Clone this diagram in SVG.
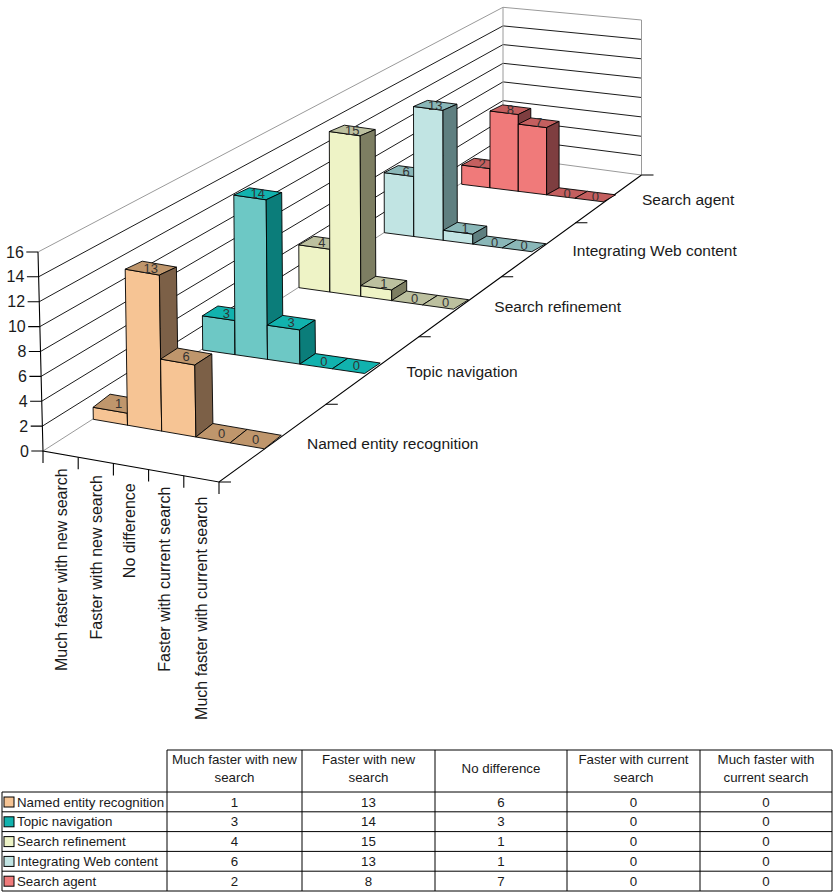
<svg xmlns="http://www.w3.org/2000/svg" width="834" height="893" viewBox="0 0 834 893">
<style>
text{font-family:"Liberation Sans",Arial,sans-serif;fill:#1a1a1a}
.grid{stroke:#000;stroke-width:0.9;fill:none}
.edge{stroke:#9a9a9a;stroke-width:1;fill:none}
.ax{stroke:#000;stroke-width:1.1;fill:none}
.bar polygon{stroke:#000;stroke-width:0.9;stroke-linejoin:round}
.v{font-size:13px;text-anchor:middle;fill:#333}
.yl{font-size:16px;text-anchor:end}
.cl{font-size:16px;text-anchor:end}
.sl{font-size:15.5px}
.tb{font-size:13.3px}
.tc{font-size:13.3px;text-anchor:middle}
.cell{stroke:#000;stroke-width:1;fill:none}
.a0{fill:#F6C494}.b0{fill:#BF966C}.c0{fill:#7C6047}
.a1{fill:#6DC8C5}.b1{fill:#11B2AE}.c1{fill:#0B7D7A}
.a2{fill:#EEF3C6}.b2{fill:#BCC09F}.c2{fill:#7D7E62}
.a3{fill:#C1E4E3}.b3{fill:#8AB7B8}.c3{fill:#5F7F80}
.a4{fill:#F07A7A}.b4{fill:#C45F5F}.c4{fill:#7E3E40}
</style>
<g id="walls">
<line class="edge" x1="43" y1="451" x2="503" y2="156.5"/>
<line class="grid" x1="42.4" y1="426.1" x2="503" y2="137.9"/>
<line class="grid" x1="41.8" y1="401.2" x2="503" y2="119.2"/>
<line class="grid" x1="41.1" y1="376.4" x2="503" y2="100.6"/>
<line class="grid" x1="40.5" y1="351.5" x2="503" y2="81.9"/>
<line class="grid" x1="39.9" y1="326.6" x2="503" y2="63.3"/>
<line class="grid" x1="39.3" y1="301.7" x2="503" y2="44.6"/>
<line class="grid" x1="38.6" y1="276.8" x2="503" y2="25.9"/>
<line class="edge" x1="38" y1="252" x2="503" y2="7.3"/>
<line class="edge" x1="503" y1="156.5" x2="641.5" y2="175"/>
<line class="grid" x1="503" y1="137.9" x2="641.5" y2="155.6"/>
<line class="grid" x1="503" y1="119.2" x2="641.5" y2="136.3"/>
<line class="grid" x1="503" y1="100.6" x2="641.5" y2="116.9"/>
<line class="grid" x1="503" y1="81.9" x2="641.5" y2="97.5"/>
<line class="grid" x1="503" y1="63.3" x2="641.5" y2="78.1"/>
<line class="grid" x1="503" y1="44.6" x2="641.5" y2="58.8"/>
<line class="grid" x1="503" y1="25.9" x2="641.5" y2="39.4"/>
<line class="edge" x1="503" y1="7.3" x2="641.5" y2="20"/>
<line class="edge" x1="503" y1="7.3" x2="503" y2="156.5"/>
<line class="edge" x1="641.5" y1="20" x2="641.5" y2="175"/>
</g>
<g id="axes">
<path class="ax" d="M38,252 L43,451 L219,482 L641.5,175"/>
<path class="ax" d="M31.3,451H43M30.7,426.1H42.4M30.1,401.2H41.8M29.4,376.4H41.1M28.8,351.5H40.5M28.2,326.6H39.9M27.6,301.7H39.3M26.9,276.8H38.6M26.3,252H38"/>
<path class="ax" d="M43,451V463M78.2,457.2V469.2M113.4,463.4V475.4M148.6,469.6V481.6M183.8,475.8V487.8M219,482V494"/>
<path class="ax" d="M219,482H231M325.8,404.3H337.8M418.7,336.7H430.7M501.2,276.7H513.2M575.4,222.7H587.4M641.5,175H653.5"/>
<text class="yl" x="28.8" y="456.5">0</text>
<text class="yl" x="28.2" y="431.6">2</text>
<text class="yl" x="27.6" y="406.7">4</text>
<text class="yl" x="26.9" y="381.9">6</text>
<text class="yl" x="26.3" y="357">8</text>
<text class="yl" x="25.7" y="332.1">10</text>
<text class="yl" x="25.1" y="307.2">12</text>
<text class="yl" x="24.4" y="282.3">14</text>
<text class="yl" x="23.8" y="257.5">16</text>
<text class="cl" transform="translate(66.7,468.3) rotate(-90)">Much faster with new search</text>
<text class="cl" transform="translate(101.7,475) rotate(-90)">Faster with new search</text>
<text class="cl" transform="translate(135,483.3) rotate(-90)">No difference</text>
<text class="cl" transform="translate(170,486.7) rotate(-90)">Faster with current search</text>
<text class="cl" transform="translate(206.7,496.7) rotate(-90)">Much faster with current search</text>
<text class="sl" x="307" y="449">Named entity recognition</text>
<text class="sl" x="406.5" y="377">Topic navigation</text>
<text class="sl" x="494.3" y="311.7">Search refinement</text>
<text class="sl" x="572.5" y="255.7">Integrating Web content</text>
<text class="sl" x="642" y="205">Search agent</text>
</g>
<g id="series-search-agent">
<g id="sa-1" class="bar"><polygon class="a4" points="461.7,184.3 490.0,187.8 490.0,168.6 461.7,165.1"/><polygon class="b4" points="461.7,165.1 490.0,168.6 502.5,161.8 474.2,158.3"/><polygon class="c4" points="490.0,187.8 490.0,168.6 502.5,161.8 502.5,180.8"/><text class="v" x="482.1" y="168">2</text></g>
<g id="sa-2" class="bar"><polygon class="a4" points="490.0,187.8 518.3,191.3 518.3,114.5 490.0,111.0"/><polygon class="b4" points="490.0,111.0 518.3,114.5 530.8,108.4 502.5,104.9"/><polygon class="c4" points="518.3,191.3 518.3,114.5 530.8,108.4 530.8,184.3"/><text class="v" x="510.4" y="114.2">8</text></g>
<g id="sa-3" class="bar"><polygon class="a4" points="518.3,191.3 546.6,194.8 546.6,127.6 518.3,124.1"/><polygon class="b4" points="518.3,124.1 546.6,127.6 559.1,121.4 530.8,117.9"/><polygon class="c4" points="546.6,194.8 546.6,127.6 559.1,121.4 559.1,188.3"/><text class="v" x="538.7" y="127.3">7</text></g>
<g id="sa-4" class="bar"><polygon class="b4" points="546.6,194.8 574.9,198.3 587.4,191.3 559.1,187.8"/><text class="v" x="567" y="197.5">0</text></g>
<g id="sa-5" class="bar"><polygon class="b4" points="574.9,198.3 603.2,201.8 615.7,194.8 587.4,191.3"/><text class="v" x="595.3" y="201.1">0</text></g>
</g>
<g id="series-integrating-web-content">
<g id="iw-1" class="bar"><polygon class="a3" points="384.3,232.7 413.8,236.5 413.7,176.5 384.2,172.7"/><polygon class="b3" points="384.2,172.7 413.7,176.5 427.7,169.4 398.2,165.6"/><polygon class="c3" points="413.8,236.5 413.7,176.5 427.7,169.4 427.8,228.5"/><text class="v" x="406" y="175.5">6</text></g>
<g id="iw-2" class="bar"><polygon class="a3" points="413.8,236.5 443.3,240.3 443.0,110.3 413.5,106.5"/><polygon class="b3" points="413.5,106.5 443.0,110.3 457.0,104.2 427.5,100.4"/><polygon class="c3" points="443.3,240.3 443.0,110.3 457.0,104.2 457.3,232.3"/><text class="v" x="435.3" y="109.9">13</text></g>
<g id="iw-3" class="bar"><polygon class="a3" points="443.3,240.3 472.8,244.1 472.8,234.1 443.3,230.3"/><polygon class="b3" points="443.3,230.3 472.8,234.1 486.8,226.2 457.3,222.4"/><polygon class="c3" points="472.8,244.1 472.8,234.1 486.8,226.2 486.8,236.1"/><text class="v" x="465" y="232.8">1</text></g>
<g id="iw-4" class="bar"><polygon class="b3" points="472.8,244.1 502.3,247.9 516.3,239.9 486.8,236.1"/><text class="v" x="494.6" y="246.5">0</text></g>
<g id="iw-5" class="bar"><polygon class="b3" points="502.3,247.9 531.8,251.7 545.8,243.7 516.3,239.9"/><text class="v" x="524" y="250.3">0</text></g>
</g>
<g id="series-search-refinement">
<g id="sr-1" class="bar"><polygon class="a2" points="299.0,287.7 329.9,292.0 329.7,249.2 298.8,244.9"/><polygon class="b2" points="298.8,244.9 329.7,249.2 344.7,240.6 313.8,236.3"/><polygon class="c2" points="329.9,292.0 329.7,249.2 344.7,240.6 344.9,282.5"/><text class="v" x="321.8" y="247.3">4</text></g>
<g id="sr-2" class="bar"><polygon class="a2" points="329.9,292.0 360.8,296.3 360.2,135.8 329.3,131.5"/><polygon class="b2" points="329.3,131.5 360.2,135.8 375.2,129.5 344.3,125.2"/><polygon class="c2" points="360.8,296.3 360.2,135.8 375.2,129.5 375.8,286.8"/><text class="v" x="352.3" y="135">15</text></g>
<g id="sr-3" class="bar"><polygon class="a2" points="360.8,296.3 391.7,300.6 391.7,289.9 360.8,285.6"/><polygon class="b2" points="360.8,285.6 391.7,289.9 406.7,280.6 375.8,276.3"/><polygon class="c2" points="391.7,300.6 391.7,289.9 406.7,280.6 406.7,291.1"/><text class="v" x="383.8" y="287.6">1</text></g>
<g id="sr-4" class="bar"><polygon class="b2" points="391.7,300.6 422.6,304.9 437.6,295.4 406.7,291.1"/><text class="v" x="414.7" y="302.5">0</text></g>
<g id="sr-5" class="bar"><polygon class="b2" points="422.6,304.9 453.5,309.2 468.5,299.7 437.6,295.4"/><text class="v" x="445.6" y="306.8">0</text></g>
</g>
<g id="series-topic-navigation">
<g id="tn-1" class="bar"><polygon class="a1" points="202.7,350.0 235.1,354.7 234.8,320.5 202.4,315.8"/><polygon class="b1" points="202.4,315.8 234.8,320.5 250.3,310.7 217.9,306.0"/><polygon class="c1" points="235.1,354.7 234.8,320.5 250.3,310.7 250.6,344.2"/><text class="v" x="226.4" y="317.8">3</text></g>
<g id="tn-2" class="bar"><polygon class="a1" points="235.1,354.7 267.5,359.4 266.2,199.8 233.8,195.1"/><polygon class="b1" points="233.8,195.1 266.2,199.8 281.7,192.5 249.3,187.8"/><polygon class="c1" points="267.5,359.4 266.2,199.8 281.7,192.5 283.0,348.9"/><text class="v" x="257.8" y="198.3">14</text></g>
<g id="tn-3" class="bar"><polygon class="a1" points="267.5,359.4 299.9,364.1 299.6,329.9 267.2,325.2"/><polygon class="b1" points="267.2,325.2 299.6,329.9 315.1,320.1 282.7,315.4"/><polygon class="c1" points="299.9,364.1 299.6,329.9 315.1,320.1 315.4,353.6"/><text class="v" x="291.2" y="327.2">3</text></g>
<g id="tn-4" class="bar"><polygon class="b1" points="299.9,364.1 332.3,368.8 347.8,358.3 315.4,353.6"/><text class="v" x="323.9" y="365.7">0</text></g>
<g id="tn-5" class="bar"><polygon class="b1" points="332.3,368.8 364.7,373.5 380.2,363.0 347.8,358.3"/><text class="v" x="356.3" y="370.4">0</text></g>
</g>
<g id="series-named-entity-recognition">
<g id="ner-1" class="bar"><polygon class="a0" points="93.3,419.3 127.5,425.2 127.3,413.2 93.1,407.3"/><polygon class="b0" points="93.1,407.3 127.3,413.2 144.3,400.1 110.1,394.2"/><polygon class="c0" points="127.5,425.2 127.3,413.2 144.3,400.1 144.5,411.7"/><text class="v" x="118.7" y="408.2">1</text></g>
<g id="ner-2" class="bar"><polygon class="a0" points="127.5,425.2 161.7,431.1 159.4,275.1 125.2,269.2"/><polygon class="b0" points="125.2,269.2 159.4,275.1 176.4,267.1 142.2,261.2"/><polygon class="c0" points="161.7,431.1 159.4,275.1 176.4,267.1 178.7,417.6"/><text class="v" x="150.8" y="272.6">13</text></g>
<g id="ner-3" class="bar"><polygon class="a0" points="161.7,431.1 195.9,437.0 194.8,365.0 160.6,359.1"/><polygon class="b0" points="160.6,359.1 194.8,365.0 211.8,354.0 177.6,348.1"/><polygon class="c0" points="195.9,437.0 194.8,365.0 211.8,354.0 212.9,423.5"/><text class="v" x="186.2" y="361">6</text></g>
<g id="ner-4" class="bar"><polygon class="b0" points="195.9,437.0 230.1,442.9 247.1,429.4 212.9,423.5"/><text class="v" x="221.5" y="437.7">0</text></g>
<g id="ner-5" class="bar"><polygon class="b0" points="230.1,442.9 264.3,448.8 281.3,435.3 247.1,429.4"/><text class="v" x="255.7" y="443.6">0</text></g>
</g>
<g id="data-table">
<path class="cell" d="M167,750H832V891H2V792H832M167,750V891M302,750V891M435,750V891M567,750V891M700,750V891M2,811.8H832M2,831.6H832M2,851.4H832M2,871.2H832"/>
<text class="tc" x="234.5" y="764">Much faster with new</text>
<text class="tc" x="234.5" y="782">search</text>
<text class="tc" x="368.5" y="764">Faster with new</text>
<text class="tc" x="368.5" y="782">search</text>
<text class="tc" x="501" y="773">No difference</text>
<text class="tc" x="633.5" y="764">Faster with current</text>
<text class="tc" x="633.5" y="782">search</text>
<text class="tc" x="766" y="764">Much faster with</text>
<text class="tc" x="766" y="782">current search</text>
<rect class="a0" x="4" y="797" width="10" height="10" stroke="#000" stroke-width="1"/>
<rect class="b1" x="4" y="816.8" width="10" height="10" stroke="#000" stroke-width="1"/>
<rect class="a2" x="4" y="836.6" width="10" height="10" stroke="#000" stroke-width="1"/>
<rect class="a3" x="4" y="856.4" width="10" height="10" stroke="#000" stroke-width="1"/>
<rect class="a4" x="4" y="876.2" width="10" height="10" stroke="#000" stroke-width="1"/>
<text class="tb" x="17" y="806.5">Named entity recognition</text>
<text class="tb" x="17" y="826.3">Topic navigation</text>
<text class="tb" x="17" y="846.1">Search refinement</text>
<text class="tb" x="17" y="865.9">Integrating Web content</text>
<text class="tb" x="17" y="885.7">Search agent</text>
<text class="tc" x="234.5" y="806.5">1</text><text class="tc" x="368.5" y="806.5">13</text><text class="tc" x="501" y="806.5">6</text><text class="tc" x="633.5" y="806.5">0</text><text class="tc" x="766" y="806.5">0</text>
<text class="tc" x="234.5" y="826.3">3</text><text class="tc" x="368.5" y="826.3">14</text><text class="tc" x="501" y="826.3">3</text><text class="tc" x="633.5" y="826.3">0</text><text class="tc" x="766" y="826.3">0</text>
<text class="tc" x="234.5" y="846.1">4</text><text class="tc" x="368.5" y="846.1">15</text><text class="tc" x="501" y="846.1">1</text><text class="tc" x="633.5" y="846.1">0</text><text class="tc" x="766" y="846.1">0</text>
<text class="tc" x="234.5" y="865.9">6</text><text class="tc" x="368.5" y="865.9">13</text><text class="tc" x="501" y="865.9">1</text><text class="tc" x="633.5" y="865.9">0</text><text class="tc" x="766" y="865.9">0</text>
<text class="tc" x="234.5" y="885.7">2</text><text class="tc" x="368.5" y="885.7">8</text><text class="tc" x="501" y="885.7">7</text><text class="tc" x="633.5" y="885.7">0</text><text class="tc" x="766" y="885.7">0</text>
</g>
</svg>
